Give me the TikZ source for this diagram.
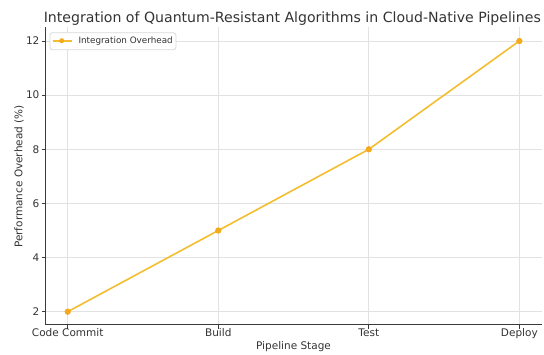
\documentclass[tikz,border=0pt]{standalone}
\usepackage{fontspec}
\setmainfont{DejaVu Sans}
\definecolor{txt}{HTML}{333333}
\definecolor{gridc}{HTML}{E2E2E2}
\definecolor{spinec}{HTML}{3A3A3A}
\definecolor{linec}{HTML}{F3BD2F}
\definecolor{markc}{HTML}{F5AA1C}
\definecolor{legedge}{HTML}{D8D8D8}
\tikzset{
  gridline/.style={draw=gridc, line width=0.8bp},
  spine/.style={draw=spinec, line width=1.1bp},
  tickmark/.style={draw=spinec, line width=0.9bp},
  ticklab/.style={text=txt, inner sep=0pt, font=\fontsize{10.5bp}{12bp}\selectfont},
  axlab/.style={text=txt, inner sep=0pt, font=\fontsize{10.5bp}{12bp}\selectfont},
  titlelab/.style={text=txt, inner sep=0pt, font=\fontsize{14.1bp}{16bp}\selectfont},
  datapt/.style={circle, fill=markc, inner sep=0pt, minimum size=6bp},
  dataline/.style={draw=linec, line width=1.6bp},
  legbox/.style={draw=legedge, fill=white, rounded corners=2.5bp, line width=0.8bp},
  legtext/.style={text=txt, inner sep=0pt, font=\fontsize{8.8bp}{10bp}\selectfont},
}
\begin{document}
\begin{tikzpicture}[x=1bp,y=-1bp]
\useasboundingbox (0,0) rectangle (544,354);
% grid
\foreach \xx in {67.7,218.25,368.8,519.35}
  \draw[gridline] (\xx,27.4) -- (\xx,324.5);
\foreach \v in {2,4,...,12} {
  \pgfmathsetmacro\yy{311.7-(\v-2)*27.07}
  \draw[gridline] (45.5,\yy) -- (542,\yy);
  \draw[tickmark] (45.5,\yy) -- (41.5,\yy);
  \node[ticklab, anchor=base east] (yl\v) at (39.6,\yy+3.8) {\v};
}
% x ticks
\foreach \xx/\nm/\lab in {67.7/a/Code Commit,218.25/b/Build,368.8/c/Test,519.35/d/Deploy} {
  \draw[tickmark] (\xx,324.5) -- (\xx,328.5);
  \node[ticklab, anchor=base] (xl\nm) at (\xx,336.6) {\lab};
}
% spines
\draw[spine] (45.5,27.4) -- (45.5,324.5) -- (542,324.5);
% data
\node[datapt] (p1) at (67.7,311.7) {};
\node[datapt] (p2) at (218.25,230.5) {};
\node[datapt] (p3) at (368.8,149.3) {};
\node[datapt] (p4) at (519.35,41.0) {};
\draw[dataline] (p1.center) -- (p2.center) -- (p3.center) -- (p4.center);
\node[datapt] at (p1) {};
\node[datapt] at (p2) {};
\node[datapt] at (p3) {};
\node[datapt] at (p4) {};
% legend
\node[legbox, minimum width=126bp, minimum height=17bp, anchor=north west, inner sep=0pt] (leg) at (49.5,32.3) {};
\coordinate (la) at (52.7,40.7);
\coordinate (lb) at (71.7,40.7);
\draw[dataline] (la) -- (lb);
\node[datapt, minimum size=5bp] (lm) at (61.7,40.7) {};
\node[legtext, anchor=base west] (lt) at (78.3,43.9) {Integration Overhead};
% labels
\node[titlelab, anchor=base] (title) at (292.3,22.7) {Integration of Quantum-Resistant Algorithms in Cloud-Native Pipelines};
\node[axlab, anchor=base] (xlab) at (293.5,349.5) {Pipeline Stage};
\node[axlab, rotate=90, anchor=center] (ylab) at (19.2,176.5) {Performance Overhead (\%)};
\end{tikzpicture}
\end{document}
